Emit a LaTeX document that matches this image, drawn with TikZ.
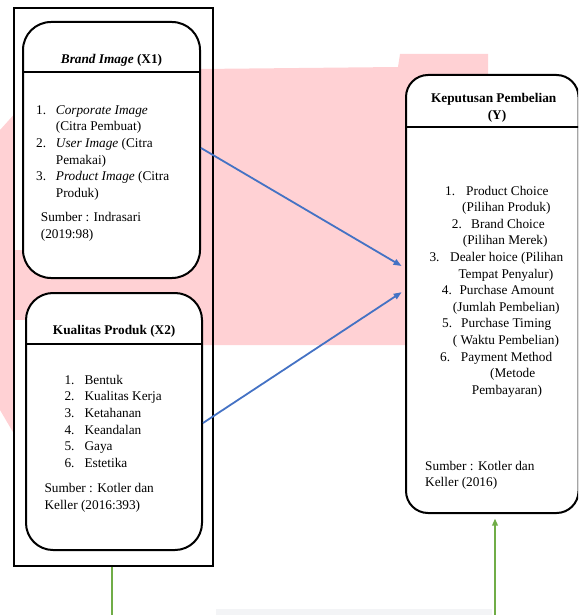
\documentclass[tikz,border=0pt]{standalone}
\usepackage{fontspec}
\setmainfont{Liberation Serif}
\usetikzlibrary{arrows.meta}
\definecolor{wmpink}{RGB}{255,209,212}
\definecolor{arrblue}{RGB}{68,114,196}
\definecolor{arrgreen}{RGB}{112,173,71}
\definecolor{faintgrey}{RGB}{243,244,246}
\newcommand{\fsz}{\fontsize{13.3}{16.6}\selectfont}
\begin{document}
\begin{tikzpicture}[x=1pt,y=-1pt,
  txt/.style={anchor=base west, inner sep=0pt, font=\fsz},
  ttl/.style={anchor=base, inner sep=0pt, font=\fsz\bfseries},
  rbox/.style={draw=black, line width=2pt, fill=white, inner sep=0pt},
  divider/.style={draw=black, line width=2pt},
  bluearrow/.style={draw=arrblue, line width=1.8pt, -{Triangle[length=8pt,width=6pt]}, shorten >=4pt},
  greenline/.style={draw=arrgreen, line width=1.8pt}
]
\useasboundingbox (0,0) rectangle (578,615);
\clip (0,0) rectangle (578,615);

% faint watermark shapes
\fill[wmpink] (0,130) -- (13.5,115) -- (13.5,433) -- (0,410) -- cycle;
\fill[wmpink] (200,69) -- (398,67) -- (400,54) -- (488,54) -- (488,345) -- (200,345) -- cycle;
\fill[wmpink] (14,250) rectangle (212,320);
\fill[faintgrey] (216,609) rectangle (492,615);

% outer frame
\node[draw=black, line width=1.8pt, minimum width=199.3pt, minimum height=558pt, inner sep=0pt] (outer) at (113.35,287) {};

% boxes
\node[rbox, rounded corners=28pt, minimum width=177pt, minimum height=256pt] (x1) at (111.5,150) {};
\node[rbox, rounded corners=27pt, minimum width=176pt, minimum height=257pt] (x2) at (114,421.5) {};
\node[rbox, rounded corners=22pt, minimum width=172.5pt, minimum height=438pt] (y) at (492.25,294) {};

% header dividers
\draw[divider] (x1.west |- 0,72.3) -- (x1.east |- 0,72.3);
\draw[divider] (x2.west |- 0,344) -- (x2.east |- 0,344);
\draw[divider] (y.west |- 0,126.7) -- (y.east |- 0,126.7);

% X1 texts
\node[ttl] (t1) at (111.5,63.3) {\textit{Brand Image} (X1)};
\node[txt] (n11) at (36,114.3) {1.};
\node[txt] (i11) at (55.7,114.3) {\textit{Corporate Image}};
\node[txt] (i11b) at (55.7,130.9) {(Citra Pembuat)};
\node[txt] (n12) at (36,147.5) {2.};
\node[txt] (i12) at (55.7,147.5) {\textit{User Image} (Citra};
\node[txt] (i12b) at (55.7,164.1) {Pemakai)};
\node[txt] (n13) at (36,180.7) {3.};
\node[txt] (i13) at (55.7,180.7) {\textit{Product Image} (Citra};
\node[txt] (i13b) at (55.7,197.3) {Produk)};
\node[txt] (s1) at (40.7,221.7) {Sumber : Indrasari};
\node[txt] (s1b) at (40.7,238.3) {(2019:98)};

% X2 texts
\node[ttl] (t2) at (114.2,334) {Kualitas Produk (X2)};
\node[txt] (n21) at (64.3,384.3) {1.};
\node[txt] (i21) at (84.3,384.3) {Bentuk};
\node[txt] (n22) at (64.3,400.9) {2.};
\node[txt] (i22) at (84.3,400.9) {Kualitas Kerja};
\node[txt] (n23) at (64.3,417.5) {3.};
\node[txt] (i23) at (84.3,417.5) {Ketahanan};
\node[txt] (n24) at (64.3,434.1) {4.};
\node[txt] (i24) at (84.3,434.1) {Keandalan};
\node[txt] (n25) at (64.3,450.7) {5.};
\node[txt] (i25) at (84.3,450.7) {Gaya};
\node[txt] (n26) at (64.3,467.3) {6.};
\node[txt] (i26) at (84.3,467.3) {Estetika};
\node[txt] (s2) at (44.3,492.7) {Sumber : Kotler dan};
\node[txt] (s2b) at (44.3,509.3) {Keller (2016:393)};

% Y texts
\node[ttl] (ty) at (493.7,102.7) {Keputusan Pembelian};
\node[ttl] (ty2) at (497,120) {(Y)};
\node[txt] (ny1) at (445,195) {1.};
\node[txt] (iy1) at (466,195) {Product Choice};
\node[txt] (iy1b) at (462,211.6) {(Pilihan Produk)};
\node[txt] (ny2) at (451.7,228.2) {2.};
\node[txt] (iy2) at (471,228.2) {Brand Choice};
\node[txt] (iy2b) at (462.7,244.8) {(Pilihan Merek)};
\node[txt] (ny3) at (429.3,261.4) {3.};
\node[txt] (iy3) at (450,261.4) {Dealer hoice (Pilihan};
\node[txt] (iy3b) at (458.3,278) {Tempat Penyalur)};
\node[txt] (ny4) at (441.7,294.6) {4.};
\node[txt] (iy4) at (459.3,294.6) {Purchase Amount};
\node[txt] (iy4b) at (452.7,311.2) {(Jumlah Pembelian)};
\node[txt] (ny5) at (442,327.8) {5.};
\node[txt] (iy5) at (461,327.8) {Purchase Timing};
\node[txt] (iy5b) at (452.7,344.4) {( Waktu Pembelian)};
\node[txt] (ny6) at (440,361) {6.};
\node[txt] (iy6) at (460.7,361) {Payment Method};
\node[txt] (iy6b) at (490,377.6) {(Metode};
\node[txt] (iy6c) at (471.7,394.2) {Pembayaran)};
\node[txt] (sy) at (425,470) {Sumber : Kotler dan};
\node[txt] (syb) at (425,486.7) {Keller (2016)};

% connectors
\draw[bluearrow] (x1.east |- 0,148) -- (y.west |- 0,268);
\draw[bluearrow] (x2.east |- 0,423) -- (y.west |- 0,290);
\draw[greenline] ([xshift=-1.3pt]outer.south) -- ([xshift=-1.3pt]outer.south |- 0,620);
\draw[greenline, -{Triangle[length=7pt,width=5.5pt]}, shorten >=4.5pt] (y.south -| 495,0) ++(0,107) -- (y.south -| 495,0);
\end{tikzpicture}
\end{document}
